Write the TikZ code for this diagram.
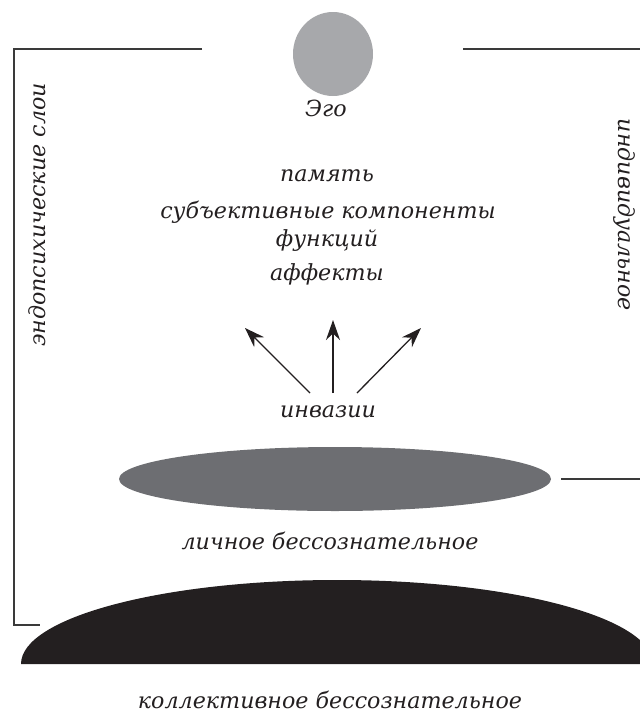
\documentclass[tikz,border=0pt]{standalone}
\usepackage{fontspec}
\setmainfont{DejaVu Serif}
\usetikzlibrary{arrows.meta}
\definecolor{egogray}{HTML}{A7A8AB}
\definecolor{pugray}{HTML}{6D6E72}
\definecolor{cublack}{HTML}{231F20}
\definecolor{linecol}{HTML}{3A3A3A}
\tikzset{
  lbl/.style={font=\itshape\fontsize{22.2}{25}\selectfont, text=cublack, inner sep=0pt},
  frame/.style={draw=linecol, line width=1.1pt},
  arr/.style={draw=cublack, line width=1.3pt, -{Stealth[length=20pt,width=14pt]}}
}
\begin{document}
\begin{tikzpicture}[x=1pt,y=-1pt]
\useasboundingbox (0,0) rectangle (640,713);
% Ego
\fill[egogray] (333,54) ellipse [x radius=40, y radius=42];
\node[lbl] (ego) at (326,108) {Эго};
% frame lines
\coordinate (tl) at (14,49);
\coordinate (tlend) at (202,49);
\coordinate (bl) at (14,625);
\coordinate (blend) at (40,625);
\coordinate (trs) at (463,49);
\coordinate (tre) at (640,49);
\draw[frame] (tlend) -- (tl) -- (bl) -- (blend);
\draw[frame] (trs) -- (tre);
% side labels
\node[lbl, rotate=90] (endo) at (37,215) {эндопсихические слои};
\node[lbl, rotate=-90] (indiv) at (624,215) {индивидуальное};
% contents
\node[lbl] (mem) at (327,176) {память};
\node[lbl] (subj) at (328,212) {субъективные компоненты};
\node[lbl] (func) at (327,241) {функций};
\node[lbl] (aff) at (327,274) {аффекты};
% arrows
\node[lbl] (inv) at (328,412) {инвазии};
\coordinate (a1s) at (310,393);
\coordinate (a1e) at (245,328);
\coordinate (a2s) at (333,393);
\coordinate (a2e) at (333,320);
\coordinate (a3s) at (357,393);
\coordinate (a3e) at (421,328);
\draw[arr] (a1s) -- (a1e);
\draw[arr] (a2s) -- (a2e);
\draw[arr] (a3s) -- (a3e);
% personal unconscious
\fill[pugray] (335,479) ellipse [x radius=216, y radius=32];
\coordinate (prs) at (561,479);
\coordinate (pre) at (640,479);
\draw[frame] (prs) -- (pre);
\node[lbl] (pers) at (330,541) {личное бессознательное};
% collective unconscious
\fill[cublack] (21,664) arc [start angle=180, end angle=360, x radius=316, y radius=84] -- cycle;
\node[lbl] (coll) at (330,700) {коллективное бессознательное};
\end{tikzpicture}
\end{document}
